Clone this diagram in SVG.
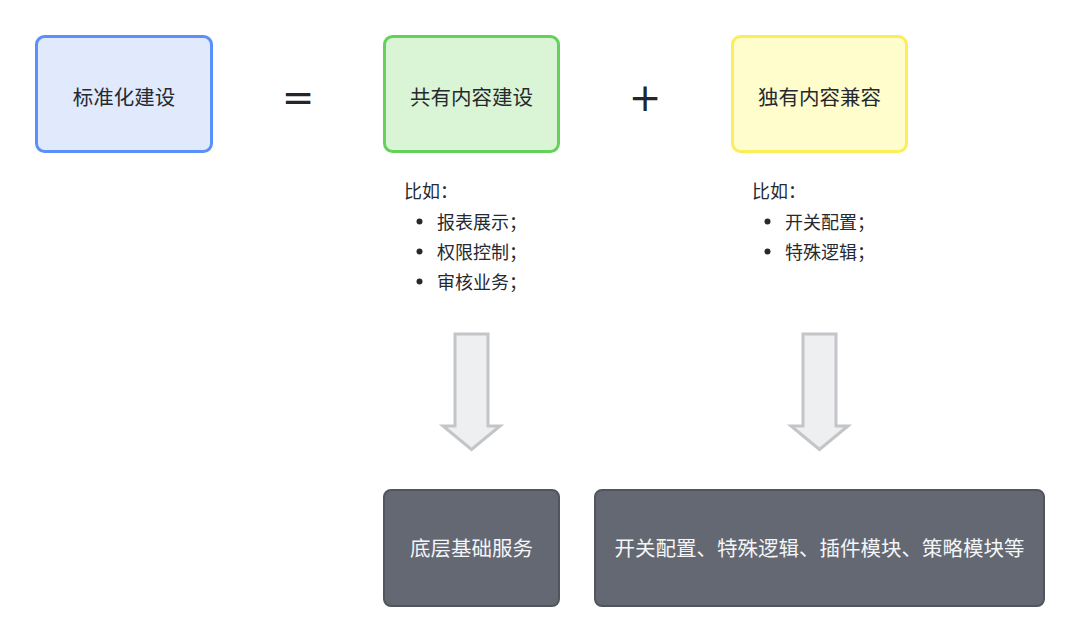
<svg xmlns="http://www.w3.org/2000/svg" width="1080" height="644" viewBox="0 0 1080 644">
<style>
.t{font-family:"Noto Sans CJK SC","Noto Sans",sans-serif;fill:#262a30}
.box{stroke-width:3}
.lbl{font-size:20.5px;text-anchor:middle}
.li{font-size:18px}
.op{font-family:"DejaVu Sans",sans-serif;font-size:39px;fill:#23262b;text-anchor:middle}
.dark{fill:#636873;stroke:#51555d;stroke-width:2}
.wl{fill:#f4f5f7}
.arr{fill:#eeeff1;stroke:#c3c5c9;stroke-width:3;stroke-linejoin:miter}
</style>
<rect width="1080" height="644" fill="#ffffff"/>
<g id="node-standard">
<rect class="box" x="36.5" y="36.5" width="175" height="115" rx="8" fill="#e1e9fc" stroke="#5b8ff9"/>
<text class="t lbl" x="124" y="104.5">标准化建设</text>
</g>
<g id="op-equals"><text class="op" x="298" y="110.5">=</text></g>
<g id="node-shared">
<rect class="box" x="384.5" y="36.5" width="174" height="115" rx="8" fill="#d9f5d5" stroke="#64d15a"/>
<text class="t lbl" x="471.5" y="104.5">共有内容建设</text>
</g>
<g id="op-plus"><text class="op" x="645" y="111">+</text></g>
<g id="node-unique">
<rect class="box" x="732.5" y="36.5" width="174" height="115" rx="8" fill="#fefdcb" stroke="#fbee5a"/>
<text class="t lbl" x="819.5" y="104.5">独有内容兼容</text>
</g>
<g id="list-shared">
<text class="t li" x="404" y="197.5">比如：</text>
<circle cx="419.5" cy="221.5" r="3" fill="#262a30"/>
<text class="t li" x="437" y="228.5">报表展示；</text>
<circle cx="419.5" cy="251.5" r="3" fill="#262a30"/>
<text class="t li" x="437" y="258.5">权限控制；</text>
<circle cx="419.5" cy="281.5" r="3" fill="#262a30"/>
<text class="t li" x="437" y="288.5">审核业务；</text>
</g>
<g id="list-unique">
<text class="t li" x="752" y="197.5">比如：</text>
<circle cx="767.5" cy="221.5" r="3" fill="#262a30"/>
<text class="t li" x="785" y="228.5">开关配置；</text>
<circle cx="767.5" cy="251.5" r="3" fill="#262a30"/>
<text class="t li" x="785" y="258.5">特殊逻辑；</text>
</g>
<g id="connectors">
<path class="arr" d="M455,334 H488 V426 H500 L471.5,449.5 L443,426 H455 Z"/>
<path class="arr" d="M803,334 H836 V426 H848 L819.5,449.5 L791,426 H803 Z"/>
</g>
<g id="node-base">
<rect class="dark" x="384" y="490" width="175" height="116" rx="7"/>
<text class="t lbl wl" x="471.5" y="555.5">底层基础服务</text>
</g>
<g id="node-modules">
<rect class="dark" x="595" y="490" width="449" height="116" rx="7"/>
<text class="t lbl wl" x="819.5" y="555.5">开关配置、特殊逻辑、插件模块、策略模块等</text>
</g>
</svg>
